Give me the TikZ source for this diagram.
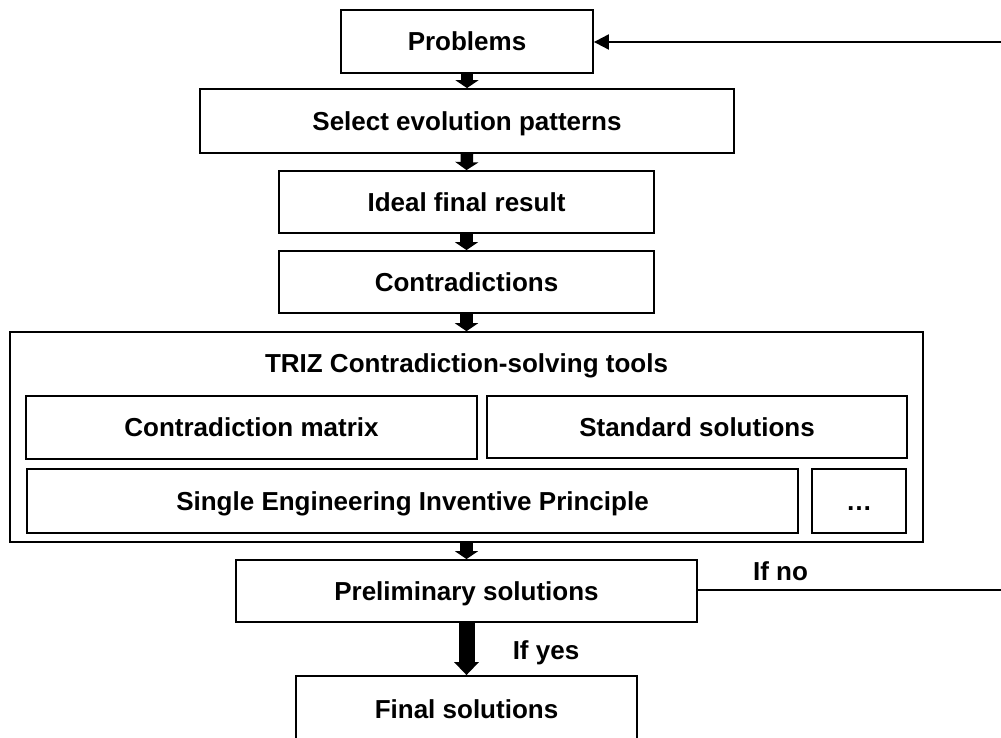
\documentclass[tikz,border=0pt]{standalone}
\usepackage{fontspec}
\setmainfont{Liberation Sans}
\usetikzlibrary{arrows.meta}
\begin{document}
\begin{tikzpicture}[x=1pt,y=-1pt,
  box/.style={draw=black, line width=1.8pt, fill=white, rectangle, inner sep=0pt,
    font=\fontsize{26}{31}\selectfont\bfseries, text height=18.6pt, text depth=0pt},
  lbl/.style={inner sep=0pt, font=\fontsize{26}{31}\selectfont\bfseries, text height=18.6pt, text depth=0pt},
  smallarrow/.style={line width=12.5pt, line cap=butt, -{Triangle[width=23pt,length=8pt]}},
  bigarrow/.style={line width=16pt, line cap=butt, -{Triangle[width=24pt,length=13pt]}},
  feedback/.style={line width=2pt},
  fbarrow/.style={line width=2pt, -{Triangle[width=15pt,length=15pt]}}]
\useasboundingbox (0,0) rectangle (1001,738);
\clip (0,0) rectangle (1001,738);
\fill[white] (0,0) rectangle (1001,738);

\node[box, minimum width=252pt, minimum height=63pt] (prob) at (467,41.5) {Problems};
\node[box, minimum width=534pt, minimum height=64pt] (sel) at (467,121) {Select evolution patterns};
\node[box, minimum width=375pt, minimum height=62pt] (ideal) at (466.5,202) {Ideal final result};
\node[box, minimum width=375pt, minimum height=62pt] (contr) at (466.5,282) {Contradictions};
\node[box, line width=1.6pt, minimum width=913pt, minimum height=210pt] (triz) at (466.5,437) {};
\node[lbl] (triztitle) at (466.5,363) {TRIZ Contradiction-solving tools};
\node[box, minimum width=451pt, minimum height=63pt] (matrix) at (251.5,427.5) {Contradiction matrix};
\node[box, minimum width=420pt, minimum height=62pt] (std) at (697,427) {Standard solutions};
\node[box, minimum width=771pt, minimum height=64pt] (single) at (412.5,501) {Single Engineering Inventive Principle};
\node[box, minimum width=94pt, minimum height=64pt] (dots) at (859,501) {\ldots};
\node[box, minimum width=461pt, minimum height=62pt] (prelim) at (466.5,591) {Preliminary solutions};
\node[box, minimum width=341pt, minimum height=66pt] (final) at (466.5,709) {Final solutions};

\draw[smallarrow] (prob.south) -- (sel.north);
\draw[smallarrow] (sel.south) -- (ideal.north);
\draw[smallarrow] (ideal.south) -- (contr.north);
\draw[smallarrow] (contr.south) -- (triz.north);
\draw[smallarrow] (triz.south) -- (prelim.north);
\draw[bigarrow] (prelim.south) -- (final.north);

\coordinate (r1) at (1001,42);
\coordinate (r2) at (1001,590);
\draw[fbarrow] (r1) -- (r1 -| prob.east);
\draw[feedback] (prelim.east |- r2) -- (r2);

\node[lbl] (ifno) at (780.5,571) {If no};
\node[lbl] (ifyes) at (546,650) {If yes};
\end{tikzpicture}
\end{document}
